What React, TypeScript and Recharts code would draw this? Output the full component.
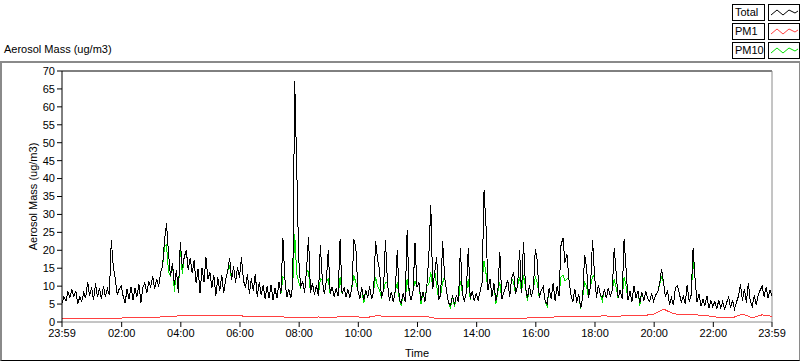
import React from 'react';
import { LineChart, Line, XAxis, YAxis, ReferenceLine } from 'recharts';

// x axis: minutes since 23:59 of the previous day
const majorTickMinutes = [0, 121, 241, 361, 481, 601, 721, 841, 961, 1081, 1201, 1321, 1440];
const majorTickLabels = ['23:59', '02:00', '04:00', '06:00', '08:00', '10:00', '12:00', '14:00', '16:00', '18:00', '20:00', '22:00', '23:59'];
const yTicks = [0, 5, 10, 15, 20, 25, 30, 35, 40, 45, 50, 55, 60, 65, 70];

const STEP_MIN = 4;
const PM1_STEP_MIN = 20;

// Total aerosol mass, one row per hour, 4-minute samples
const totalByHour = [
  [5.2, 7.1, 5.9, 8.4, 6.8, 8.9, 7.2, 8.6, 5.1, 7.0, 5.8, 8.2, 6.6, 11.2, 7.3],
  [9.6, 6.2, 10.8, 6.9, 9.4, 6.3, 10.1, 7.0, 9.3, 7.5, 22.8, 15.6, 12.1, 7.6, 9.2],
  [10.1, 7.2, 5.3, 9.3, 6.4, 9.8, 6.2, 9.5, 7.0, 10.6, 5.4, 9.6, 10.9, 8.1, 11.2],
  [9.8, 12.8, 9.2, 12.1, 9.9, 13.8, 15.6, 23.0, 27.5, 19.2, 12.8, 16.4, 10.3, 14.6, 8.1],
  [22.3, 15.2, 18.1, 20.1, 14.6, 17.9, 13.6, 17.2, 10.8, 14.8, 8.1, 15.1, 11.2, 18.0, 11.9],
  [13.9, 9.6, 13.1, 7.3, 12.4, 8.6, 13.2, 8.0, 11.9, 14.2, 17.8, 11.8, 15.6, 10.9, 15.3],
  [12.4, 18.0, 11.6, 9.6, 13.3, 7.9, 12.2, 8.7, 13.4, 7.1, 11.0, 7.6, 10.2, 6.4, 9.9],
  [6.7, 10.3, 6.2, 9.4, 6.6, 11.2, 7.8, 23.5, 12.0, 6.9, 9.2, 6.7, 10.3, 67.2, 43.6],
  [18.0, 9.6, 11.4, 8.2, 14.5, 23.8, 8.1, 10.8, 7.6, 10.2, 7.3, 21.4, 11.8, 7.8, 11.2],
  [20.1, 7.8, 9.8, 7.0, 9.4, 7.2, 23.1, 7.9, 9.6, 7.1, 9.0, 6.8, 9.5, 23.0, 20.8],
  [8.9, 6.5, 9.6, 6.1, 8.8, 6.8, 9.9, 6.3, 8.6, 22.5, 17.6, 14.4, 6.8, 8.7, 23.0],
  [11.2, 5.9, 8.4, 5.5, 8.7, 20.2, 6.4, 5.2, 8.0, 5.7, 25.6, 8.4, 6.1, 8.7, 22.0],
  [9.8, 11.0, 6.0, 8.4, 5.7, 10.1, 18.5, 32.6, 9.2, 14.1, 18.0, 6.1, 7.6, 22.5, 12.6],
  [8.6, 5.3, 4.6, 7.4, 4.9, 7.6, 5.5, 20.7, 7.9, 5.7, 8.3, 20.6, 6.3, 8.6, 5.9],
  [7.9, 6.1, 8.5, 11.0, 36.7, 26.6, 9.0, 12.0, 7.0, 10.8, 5.9, 8.6, 19.5, 6.3, 8.3],
  [9.6, 11.8, 7.1, 12.2, 14.0, 7.8, 10.1, 20.0, 8.2, 22.4, 9.9, 6.6, 10.3, 7.0, 9.2],
  [20.4, 17.0, 6.6, 8.9, 9.9, 5.7, 5.1, 9.4, 6.5, 10.8, 6.0, 9.9, 7.2, 21.3, 23.5],
  [16.5, 19.0, 12.1, 7.6, 5.6, 9.3, 5.4, 7.9, 3.8, 6.9, 18.7, 15.0, 6.7, 10.1, 23.0],
  [13.2, 6.8, 10.4, 7.4, 6.8, 9.1, 6.6, 9.5, 7.1, 8.9, 20.6, 13.6, 6.6, 9.0, 6.5],
  [23.0, 15.0, 6.1, 8.6, 5.6, 10.1, 6.7, 8.7, 5.3, 8.4, 5.9, 8.6, 6.5, 5.7, 8.0],
  [5.7, 7.6, 8.2, 10.6, 14.8, 11.0, 6.9, 8.9, 4.9, 6.8, 4.7, 9.5, 10.1, 8.0, 5.5],
  [7.3, 5.1, 10.4, 5.7, 7.5, 20.7, 12.0, 5.6, 7.7, 4.4, 6.3, 4.6, 7.3, 3.9, 5.9],
  [4.2, 5.8, 3.7, 6.0, 4.0, 5.7, 3.6, 5.4, 7.0, 3.9, 6.0, 3.7, 5.6, 7.2, 10.6],
  [5.9, 9.2, 5.4, 11.0, 5.7, 4.4, 7.4, 4.8, 7.5, 8.9, 10.0, 7.1, 9.7, 6.7, 8.9],
];
const totalLast = 7.4;

// PM10, same sampling
const pm10ByHour = [
  [5.2, 7.1, 5.9, 8.4, 6.8, 8.9, 7.2, 8.6, 5.1, 7.0, 5.8, 8.2, 6.6, 11.2, 7.3],
  [9.6, 6.2, 10.8, 6.9, 9.4, 6.3, 10.1, 7.0, 9.3, 7.5, 22.8, 15.6, 12.1, 7.6, 9.2],
  [10.1, 7.2, 5.3, 9.3, 6.4, 9.8, 6.2, 9.5, 7.0, 10.6, 5.4, 9.6, 10.9, 8.1, 11.2],
  [9.8, 12.8, 9.2, 12.1, 9.9, 13.8, 15.6, 21.0, 21.5, 14.0, 12.8, 16.4, 8.5, 14.6, 8.1],
  [20.5, 13.5, 18.1, 20.1, 14.6, 17.9, 13.6, 17.2, 10.8, 14.8, 8.1, 15.1, 11.2, 18.0, 11.9],
  [13.9, 9.6, 13.1, 7.3, 12.4, 8.6, 13.2, 8.0, 11.9, 14.2, 15.5, 11.8, 15.6, 10.9, 15.3],
  [12.4, 18.0, 11.6, 9.6, 13.3, 7.9, 12.2, 8.7, 13.4, 7.1, 11.0, 7.6, 10.2, 6.4, 9.9],
  [6.7, 10.3, 6.2, 9.4, 6.6, 11.2, 7.8, 12.5, 12.0, 6.9, 9.2, 6.7, 10.3, 24.5, 13.5],
  [11.2, 9.6, 11.4, 8.2, 14.5, 14.0, 8.1, 10.8, 7.6, 10.2, 7.3, 12.0, 11.8, 7.8, 11.2],
  [12.0, 7.8, 9.8, 7.0, 9.4, 7.2, 12.5, 7.9, 9.6, 7.1, 9.0, 6.8, 9.5, 13.0, 11.0],
  [8.9, 6.5, 9.6, 5.2, 8.8, 6.8, 9.9, 6.3, 8.6, 12.5, 10.0, 9.0, 6.8, 8.7, 11.0],
  [11.2, 5.9, 8.4, 5.5, 8.7, 11.0, 6.4, 4.6, 8.0, 5.7, 12.0, 8.4, 6.1, 8.7, 11.5],
  [9.8, 11.0, 5.0, 8.4, 5.7, 10.1, 10.5, 14.0, 9.2, 14.1, 10.0, 6.1, 7.6, 11.0, 12.6],
  [8.6, 5.3, 3.9, 7.4, 4.2, 7.6, 5.5, 11.5, 7.9, 5.7, 8.3, 12.0, 6.3, 8.6, 5.9],
  [7.9, 6.1, 8.5, 11.0, 17.0, 13.5, 9.0, 12.0, 7.0, 10.8, 5.0, 8.6, 11.0, 6.3, 8.3],
  [9.6, 11.8, 7.1, 12.2, 11.0, 7.8, 10.1, 12.5, 8.2, 13.0, 9.9, 5.8, 10.3, 7.0, 9.2],
  [12.5, 11.0, 6.6, 8.9, 9.9, 5.7, 4.4, 9.4, 6.5, 10.8, 6.0, 9.9, 7.2, 12.5, 13.0],
  [11.5, 12.0, 12.1, 7.6, 5.6, 9.3, 5.4, 7.9, 3.6, 6.9, 11.0, 10.0, 6.7, 10.1, 12.5],
  [13.2, 6.8, 10.4, 7.4, 5.9, 9.1, 6.6, 9.5, 7.1, 8.9, 12.0, 9.5, 6.6, 9.0, 6.5],
  [12.5, 10.0, 6.1, 8.6, 5.6, 10.1, 6.7, 8.7, 4.6, 8.4, 5.9, 8.6, 6.5, 5.7, 8.0],
  [5.7, 7.6, 8.2, 10.6, 12.5, 11.0, 6.9, 8.9, 4.9, 6.8, 4.7, 9.5, 10.1, 8.0, 5.5],
  [7.3, 5.1, 10.4, 5.7, 7.5, 17.0, 12.0, 5.6, 7.7, 4.4, 6.3, 4.6, 7.3, 3.9, 5.9],
  [4.2, 5.8, 3.7, 6.0, 4.0, 5.7, 3.6, 5.4, 7.0, 3.9, 6.0, 3.7, 5.6, 7.2, 10.6],
  [5.9, 9.2, 5.4, 11.0, 5.7, 4.4, 7.4, 4.8, 7.5, 8.9, 10.0, 7.1, 9.7, 6.7, 8.9],
];
const pm10Last = 7.4;

// PM1, 20-minute samples
const pm1Values = [
  0.9, 1.0, 1.0, 1.0, 1.1, 1.1, 1.1, 1.2, 1.2, 1.3, 1.4, 1.6, 1.7, 1.8, 1.8, 1.7,
  1.8, 1.7, 1.7, 1.6, 1.6, 1.5, 1.5, 1.3, 1.2, 1.3, 1.4, 1.3, 1.4, 1.5, 1.4, 1.3,
  1.8, 1.4, 1.5, 1.4, 1.4, 1.5, 1.0, 1.0, 1.0, 1.1, 1.0, 1.0, 1.1, 1.0, 1.0, 1.1,
  1.2, 1.3, 1.4, 1.4, 1.5, 1.4, 1.6, 1.7, 1.6, 1.7, 1.7, 1.8, 2.2, 3.6, 2.3, 2.0,
  2.0, 1.9, 1.5, 1.2, 1.2, 2.2, 1.2, 2.0, 1.6,
];

const totalFlat = [...totalByHour.flat(), totalLast];
const pm10Flat = [...pm10ByHour.flat(), pm10Last];
const chartData = totalFlat.map((v, i) => ({ t: i * STEP_MIN, total: v, pm10: pm10Flat[i] }));
const pm1Data = pm1Values.map((v, i) => ({ t: i * PM1_STEP_MIN, pm1: v }));

const minorTicks = Array.from({ length: 96 }, (_, k) => 1 + 15 * (k + 1)).filter(
  (m) => m < 1440 && !majorTickMinutes.includes(m)
);

const FONT = '"Liberation Sans", Arial, sans-serif';

const LegendRow = ({ label, color, top }: { label: string; color: string; top: number }) => (
  <div style={{ position: 'absolute', left: 732, top, height: 17, display: 'flex' }}>
    <div
      style={{
        width: 29,
        height: 15,
        border: '1px solid #000',
        fontSize: 11,
        lineHeight: '15px',
        paddingLeft: 2,
        boxSizing: 'content-box',
        background: '#fff',
      }}
    >
      {label}
    </div>
    <svg width={32} height={17} style={{ marginLeft: 3 }}>
      <rect x={0.5} y={0.5} width={31} height={16} fill="#fff" stroke="#000" />
      <polyline points="3,11 9,6 15,11 21,6 27,9 30,7" fill="none" stroke={color} strokeWidth={1} />
    </svg>
  </div>
);

export default function App() {
  return (
    <div
      style={{
        position: 'absolute',
        left: 0,
        top: 0,
        width: 800,
        height: 361,
        background: '#fff',
        fontFamily: FONT,
        overflow: 'hidden',
      }}
    >
      <div
        style={{
          position: 'absolute',
          left: 0,
          top: 61,
          width: 797,
          height: 297,
          borderTop: '2px solid #8a8a8a',
          borderLeft: '2px solid #8a8a8a',
          borderRight: '1px solid #8a8a8a',
          borderBottom: '1px solid #000',
        }}
      />
      <div style={{ position: 'absolute', left: 4, top: 43, fontSize: 11, color: '#000' }}>Aerosol Mass (ug/m3)</div>
      <LegendRow label="Total" color="#000" top={4} />
      <LegendRow label="PM1" color="#ff4040" top={23} />
      <LegendRow label="PM10" color="#00e000" top={42} />
      <div style={{ position: 'absolute', left: 0, top: 0 }}>
        <LineChart
          width={800}
          height={361}
          data={chartData}
          margin={{ top: 71, right: 28, bottom: 0, left: 0 }}
        >
          <XAxis
            xAxisId="minor"
            type="number"
            dataKey="t"
            domain={[0, 1440]}
            ticks={minorTicks}
            tick={false}
            tickSize={3}
            height={0}
            axisLine={false}
            tickLine={{ stroke: '#000' }}
            allowDataOverflow
          />
          <XAxis
            type="number"
            dataKey="t"
            domain={[0, 1440]}
            ticks={majorTickMinutes}
            tickFormatter={(v: number) => majorTickLabels[majorTickMinutes.indexOf(v)] ?? ''}
            interval={0}
            tickSize={5}
            tickMargin={2}
            height={39}
            axisLine={{ stroke: '#8a8a8a' }}
            tickLine={{ stroke: '#000' }}
            tick={{ fill: '#000', fontSize: 11, fontFamily: FONT }}
            allowDataOverflow
            label={{ value: 'Time', position: 'insideBottom', offset: 4, fill: '#000', fontSize: 11, fontFamily: FONT }}
          />
          <YAxis
            type="number"
            domain={[0, 70]}
            ticks={yTicks}
            interval={0}
            width={62}
            tickSize={5}
            tickMargin={2}
            axisLine={{ stroke: '#000' }}
            tickLine={{ stroke: '#000' }}
            tick={{ fill: '#000', fontSize: 11, fontFamily: FONT }}
            allowDataOverflow
            label={{
              value: 'Aerosol Mass (ug/m3)',
              angle: -90,
              position: 'center',
              dx: 2,
              fill: '#000',
              fontSize: 11,
              fontFamily: FONT,
            }}
          />
          <ReferenceLine y={70} stroke="#000" />
          <ReferenceLine x={1440} stroke="#8a8a8a" />
          <Line
            dataKey="pm10"
            stroke="#00e000"
            strokeWidth={1}
            dot={false}
            isAnimationActive={false}
            type="linear"
            shapeRendering="crispEdges"
          />
          <Line
            data={pm1Data}
            dataKey="pm1"
            stroke="#ff4040"
            strokeWidth={1}
            dot={false}
            isAnimationActive={false}
            type="linear"
            shapeRendering="crispEdges"
          />
          <Line
            dataKey="total"
            stroke="#000"
            strokeWidth={1}
            dot={false}
            isAnimationActive={false}
            type="linear"
            shapeRendering="crispEdges"
          />
        </LineChart>
      </div>
    </div>
  );
}
